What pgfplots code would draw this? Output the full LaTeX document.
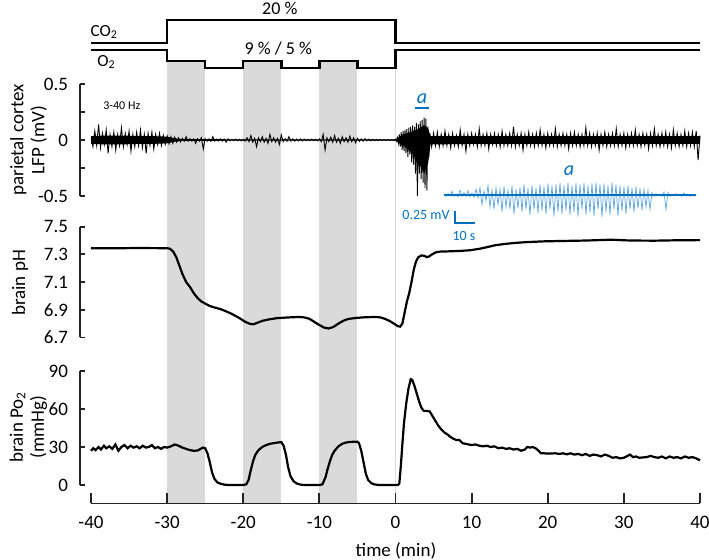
\documentclass[border=0pt]{standalone}
\usepackage{fontspec}
\setmainfont{Carlito}
\usepackage{pgfplots}
\pgfplotsset{compat=1.18}
\definecolor{band}{RGB}{218,218,218}
\definecolor{ablue}{RGB}{0,112,192}
\definecolor{lblue}{RGB}{95,165,222}
\definecolor{axc}{RGB}{35,35,35}
\pgfplotsset{panel/.style={anchor=south west, scale only axis, width=310pt,
  xmin=-41.445, xmax=40, axis y line*=left, hide x axis, tick align=inside,
  major tick length=2.6pt, axis line style={-, line width=0.9pt, axc},
  tick style={line width=0.9pt, axc},
  yticklabel style={font=\fontsize{9.5}{11}\selectfont, xshift=-2.5pt},
  clip=false}}
\begin{document}
\begin{tikzpicture}[x=1pt,y=1pt]
\useasboundingbox (0,0) rectangle (354.5,280);
% ---------- background: stimulus protocol and shaded periods ----------
\begin{axis}[at={(45.5pt,0pt)}, anchor=south west, scale only axis, width=304.5pt, height=280pt,
  xmin=-40, xmax=40, ymin=0, ymax=560, y dir=reverse, hide axis, clip=false]
\addplot[fill=band, draw=none] coordinates {(-30,62) (-25,62) (-25,503) (-30,503)};
\addplot[fill=band, draw=none] coordinates {(-20,62) (-15,62) (-15,503) (-20,503)};
\addplot[fill=band, draw=none] coordinates {(-10,62) (-5,62) (-5,503) (-10,503)};
\addplot[draw=band, line width=0.8pt] coordinates {(0,52) (0,503)};
\addplot[const plot, line width=1.2pt, black, line join=miter] coordinates {(-40,43.3) (-30,20) (0,43.3) (40,43.3)};
\addplot[const plot, line width=1.2pt, black, line join=miter] coordinates {(-40,50) (-30,61) (-25,68.3) (-20,61) (-15,68.3) (-10,61) (-5,68.3) (0,50) (40,50)};
\node[font=\fontsize{9}{10}\selectfont] at (axis cs:-15.2,8.5) {20 \%};
\node[font=\fontsize{9}{10}\selectfont] at (axis cs:-15.4,48.5) {9 \% / 5 \%};
\node[font=\fontsize{8.5}{10}\selectfont, anchor=west, inner sep=0pt] at (axis cs:-40.1,32) {CO\textsubscript{2}};
\node[font=\fontsize{8.5}{10}\selectfont, anchor=west, inner sep=0pt] at (axis cs:-39.2,62) {O\textsubscript{2}};
\end{axis}
% ---------- LFP ----------
\begin{axis}[panel, at={(40pt,182pt)}, height=56pt, ymin=-0.5, ymax=0.5,
  ytick={-0.5,-0.25,0,0.25,0.5}, yticklabels={-0.5,,0,,0.5}]
% dense core of the trace (envelope)
\addplot[fill=black, draw=none] coordinates {
(-40,0.035)(-38,0.04)(-36,0.04)(-34,0.035)(-32,0.035)(-30,0.03)(-29,0.015)(-28,0.008)(-20,0.006)(-10,0.006)(0,0.005)(0.5,0.03)(1,0.05)(2,0.07)(3,0.1)(3.8,0.13)(4.3,0.1)(4.6,0.035)(10,0.035)(20,0.035)(30,0.035)(40,0.035)
(40,-0.035)(30,-0.035)(20,-0.035)(10,-0.035)(4.6,-0.04)(4.3,-0.2)(3.8,-0.3)(3,-0.2)(2,-0.1)(1,-0.05)(0.5,-0.03)(0,-0.005)(-10,-0.006)(-20,-0.006)(-28,-0.008)(-29,-0.015)(-30,-0.03)(-32,-0.035)(-34,-0.035)(-36,-0.04)(-38,-0.04)(-40,-0.035)
};
\addplot[black, line width=0.45pt] coordinates {
(-40,0.02)(-39.75,-0.06)(-39.5,0.08)(-39.25,-0.05)(-39,0.14)(-38.75,-0.07)(-38.5,0.06)(-38.25,-0.04)(-38,0.09)(-37.75,-0.12)(-37.5,0.05)(-37.25,-0.06)(-37,0.07)(-36.75,-0.09)(-36.5,0.05)(-36.25,-0.05)(-36,0.11)(-35.75,-0.06)(-35.5,0.06)(-35.25,-0.04)(-35,0.08)(-34.75,-0.1)(-34.5,0.05)(-34.25,-0.06)(-34,0.07)(-33.75,-0.05)(-33.5,0.09)(-33.25,-0.07)(-33,0.05)(-32.75,-0.12)(-32.5,0.06)(-32.25,-0.05)(-32,0.07)(-31.75,-0.08)(-31.5,0.05)(-31.25,-0.04)(-31,0.06)(-30.75,-0.05)(-30.5,0.04)(-30.25,-0.04)(-30,0.035)
(-29.75,-0.035)(-29.5,0.03)(-29.25,-0.03)(-29,0.025)(-28.75,-0.02)(-28.5,0.02)(-28.25,-0.018)(-28,0.015)(-27.75,-0.012)(-27.5,0.03)(-27.25,-0.01)(-27,0.012)(-26.75,-0.01)(-26.5,0.01)(-26.25,-0.03)(-26,0.012)(-25.75,-0.01)(-25.5,0.02)(-25.25,-0.08)(-25,0.012)(-24.75,-0.01)(-24.5,0.01)(-24.25,-0.012)(-24,0.03)(-23.75,-0.01)(-23.5,0.008)(-23.25,-0.008)(-23,0.01)(-22.75,-0.01)(-22.5,0.008)(-22.25,-0.02)(-22,0.01)(-21.75,-0.008)(-21.5,0.006)(-21.25,-0.006)(-21,0.008)(-20.75,-0.006)(-20.5,0.006)(-20.25,-0.008)(-20,0.006)
(-19.75,-0.01)(-19.5,0.02)(-19.25,-0.015)(-19,0.04)(-18.75,-0.02)(-18.5,0.015)(-18.25,-0.06)(-18,0.02)(-17.75,-0.015)(-17.5,0.03)(-17.25,-0.02)(-17,0.015)(-16.75,-0.03)(-16.5,0.05)(-16.25,-0.015)(-16,0.02)(-15.75,-0.02)(-15.5,0.015)(-15.25,-0.04)(-15,0.045)(-14.75,-0.015)(-14.5,0.012)(-14.25,-0.012)(-14,0.03)(-13.75,-0.01)(-13.5,0.01)(-13.25,-0.01)(-13,0.008)(-12.75,-0.008)(-12.5,0.01)(-12.25,-0.008)(-12,0.008)(-11.75,-0.006)(-11.5,0.006)(-11.25,-0.006)(-11,0.008)(-10.75,-0.006)(-10.5,0.006)(-10.25,-0.008)(-10,0.01)
(-9.75,-0.015)(-9.5,0.05)(-9.25,-0.09)(-9,0.02)(-8.75,-0.015)(-8.5,0.025)(-8.25,-0.02)(-8,0.04)(-7.75,-0.02)(-7.5,0.015)(-7.25,-0.03)(-7,0.03)(-6.75,-0.015)(-6.5,0.02)(-6.25,-0.02)(-6,0.035)(-5.75,-0.015)(-5.5,0.02)(-5.25,-0.025)(-5,0.015)(-4.75,-0.012)(-4.5,0.01)(-4.25,-0.01)(-4,0.012)(-3.75,-0.008)(-3.5,0.008)(-3.25,-0.008)(-3,0.006)(-2.75,-0.006)(-2.5,0.006)(-2.25,-0.006)(-2,0.005)(-1.75,-0.005)(-1.5,0.005)(-1.25,-0.005)(-1,0.005)(-0.75,-0.005)(-0.5,0.005)(-0.25,-0.005)(0,0.008)
(0.125,-0.01)(0.25,0.02)(0.375,-0.03)(0.5,0.05)(0.625,-0.06)(0.75,0.07)(0.875,-0.09)(1,0.08)(1.125,-0.1)(1.25,0.09)(1.375,-0.12)(1.5,0.1)(1.625,-0.15)(1.75,0.11)(1.875,-0.13)(2,0.12)(2.125,-0.2)(2.25,0.13)(2.375,-0.22)(2.5,0.12)(2.625,-0.3)(2.75,0.15)(2.875,-0.5)(3,0.14)(3.125,-0.3)(3.25,0.17)(3.375,-0.35)(3.5,0.18)(3.625,-0.38)(3.75,0.2)(3.875,-0.43)(4,0.19)(4.125,-0.45)(4.25,0.12)(4.375,-0.15)(4.5,0.06)
(4.75,-0.06)(5,0.06)(5.25,-0.05)(5.5,0.07)(5.75,-0.06)(6,0.05)(6.25,-0.05)(6.5,0.08)(6.75,-0.05)(7,0.05)(7.25,-0.07)(7.5,0.06)(7.75,-0.05)(8,0.04)(8.25,-0.06)(8.5,0.09)(8.75,-0.05)(9,0.05)(9.25,-0.1)(9.5,0.05)(9.75,-0.05)(10,0.06)(10.25,-0.04)(10.5,0.05)(10.75,-0.06)(11,0.1)(11.25,-0.05)(11.5,0.05)(11.75,-0.05)(12,0.06)(12.25,-0.08)(12.5,0.05)(12.75,-0.04)(13,0.06)(13.25,-0.05)(13.5,0.05)(13.75,-0.06)(14,0.08)(14.25,-0.05)(14.5,0.05)(14.75,-0.05)(15,0.06)(15.25,-0.05)(15.5,0.12)(15.75,-0.06)(16,0.05)(16.25,-0.05)(16.5,0.06)(16.75,-0.09)(17,0.05)(17.25,-0.05)(17.5,0.07)(17.75,-0.05)(18,0.05)(18.25,-0.06)(18.5,0.06)(18.75,-0.05)(19,0.09)(19.25,-0.05)(19.5,0.05)(19.75,-0.07)(20,0.06)
(20.25,-0.05)(20.5,0.05)(20.75,-0.05)(21,0.1)(21.25,-0.06)(21.5,0.05)(21.75,-0.05)(22,0.06)(22.25,-0.05)(22.5,0.05)(22.75,-0.08)(23,0.06)(23.25,-0.05)(23.5,0.07)(23.75,-0.05)(24,0.05)(24.25,-0.06)(24.5,0.05)(24.75,-0.05)(25,0.11)(25.25,-0.05)(25.5,0.06)(25.75,-0.06)(26,0.05)(26.25,-0.05)(26.5,0.06)(26.75,-0.09)(27,0.05)(27.25,-0.05)(27.5,0.07)(27.75,-0.06)(28,0.05)(28.25,-0.05)(28.5,0.06)(28.75,-0.05)(29,0.1)(29.25,-0.06)(29.5,0.05)(29.75,-0.05)(30,0.06)(30.25,-0.07)(30.5,0.05)(30.75,-0.05)(31,0.06)(31.25,-0.05)(31.5,0.09)(31.75,-0.05)(32,0.05)(32.25,-0.06)(32.5,0.06)(32.75,-0.05)(33,0.05)(33.25,-0.08)(33.5,0.06)(33.75,-0.05)(34,0.1)(34.25,-0.05)(34.5,0.05)(34.75,-0.06)(35,0.06)(35.25,-0.05)(35.5,0.07)(35.75,-0.06)(36,0.05)(36.25,-0.07)(36.5,0.09)(36.75,-0.05)(37,0.06)(37.25,-0.06)(37.5,0.05)(37.75,-0.05)(38,0.08)(38.25,-0.06)(38.5,0.06)(38.75,-0.05)(39,0.07)(39.25,-0.06)(39.5,0.08)(39.75,-0.18)(40,0.04)
};
\node[font=\fontsize{6}{7}\selectfont, anchor=west] at (axis cs:-39.3,0.31) {3-40 Hz};
\node[ablue, font=\fontsize{10}{12}\itshape] at (axis cs:3.48,0.37) {a};
\draw[ablue, line width=0.8pt] (axis cs:2.56,0.286) -- (axis cs:4.4,0.286);
\end{axis}
% ---------- pH ----------
\begin{axis}[panel, at={(40pt,111.25pt)}, height=55.4pt, ymin=6.7, ymax=7.5,
  ytick={6.7,6.9,7.1,7.3,7.5}, yticklabels={6.7,6.9,7.1,7.3,7.5}]
\addplot[black, line width=1.1pt] coordinates {
(-40,7.345) (-37,7.344) (-34,7.346) (-31,7.345) (-30,7.345) (-29.6,7.34) (-29.2,7.32) (-28.8,7.28) (-28.4,7.22) (-28,7.16) (-27.5,7.1) (-27,7.065) (-26.5,7.02) (-26,6.985) (-25.5,6.96) (-25,6.945) (-24.5,6.93) (-24,6.92) (-23,6.905) (-22.3,6.89) (-21.5,6.87) (-20.5,6.84) (-19.8,6.815) (-19.2,6.8) (-18.7,6.795) (-18.2,6.805) (-17.5,6.82) (-16.5,6.832) (-15.5,6.84) (-14,6.845) (-12.7,6.848) (-12,6.845) (-11.3,6.835) (-10.6,6.81) (-10,6.79) (-9.4,6.772) (-8.8,6.765) (-8.2,6.775) (-7.5,6.8) (-6.8,6.822) (-6.2,6.834) (-5,6.842) (-4,6.846) (-2.6,6.848) (-2,6.845) (-1.4,6.835) (-0.8,6.82) (-0.2,6.8) (0.3,6.782) (0.6,6.778) (0.9,6.8) (1.2,6.88) (1.5,6.96) (1.8,7.02) (2.1,7.1) (2.4,7.19) (2.7,7.25) (3,7.28) (3.4,7.292) (3.8,7.29) (4.1,7.28) (4.4,7.285) (4.8,7.3) (5.3,7.315) (5.8,7.32) (7,7.322) (8.5,7.325) (9.8,7.33) (11,7.34) (12,7.352) (13,7.365) (14,7.373) (15.5,7.382) (17,7.388) (19.4,7.394) (22,7.397) (25,7.4) (28.3,7.406) (30,7.402) (31,7.4) (34,7.399) (37,7.402) (40,7.403)
};
\end{axis}
% ---------- PO2 ----------
\begin{axis}[panel, at={(40pt,37.5pt)}, height=57pt, ymin=0, ymax=90,
  ytick={0,30,60,90}, yticklabels={0,30,60,90}]
\addplot[black, line width=1.1pt] coordinates {
(-40,27) (-39.7,29) (-39.4,27.5) (-39,30) (-38.7,28) (-38.3,31) (-38,29) (-37.6,30.5) (-37.2,28.5) (-36.8,32) (-36.4,27) (-36,30) (-35.6,31.5) (-35.2,29) (-34.8,31) (-34.4,29.5) (-34,30.5) (-33.6,29) (-33.2,31) (-32.8,29.5) (-32.4,30) (-32,31.5) (-31.6,29) (-31.2,30) (-30.8,28.5) (-30.4,30) (-30,29.5) (-29.5,30.5) (-29,32) (-28.5,31) (-28,29.5) (-27.5,28.5) (-27,27.5) (-26.5,27) (-26,27.2) (-25.6,28.5) (-25.3,29.5) (-25,29) (-24.7,25) (-24.4,18) (-24.1,10) (-23.8,5) (-23.4,2) (-23,1) (-22.5,0.3) (-22,0) (-20,0) (-19.6,0.5) (-19.3,4) (-19,12) (-18.7,19) (-18.4,24) (-18,27.5) (-17.5,30) (-17,31.5) (-16.5,32.5) (-16,33) (-15.5,33.5) (-15,33.8) (-14.7,31) (-14.4,24) (-14.1,14) (-13.8,7) (-13.4,3) (-13,1.2) (-12.5,0.3) (-12,0) (-10,0) (-9.6,0.5) (-9.2,6) (-8.9,13) (-8.6,19) (-8.3,24) (-8,27) (-7.5,30.5) (-7,32.5) (-6.5,33.5) (-6,34) (-5,34.2) (-4.8,33) (-4.5,27) (-4.2,18) (-3.9,9) (-3.6,4) (-3.2,1.5) (-2.8,0.5) (-2.2,0) (0.3,0) (0.5,1) (0.7,15) (0.9,32) (1.1,48) (1.4,64) (1.7,76) (2,83.5) (2.2,83) (2.5,78) (2.8,72) (3.1,66) (3.4,61) (3.7,58.5) (4.1,58.5) (4.5,58) (4.8,55) (5.2,51) (5.6,47) (6,44) (6.4,41.5) (6.8,40) (7.2,38) (7.6,36.5) (8,35.5) (8.4,35.5) (8.8,33) (9.2,32.5) (9.6,32) (10,31.5) (10.5,32) (11,31) (11.5,30.5) (12,31) (12.5,30) (13,30.5) (13.5,29) (14,29.5) (14.5,28.5) (15,29) (15.5,28) (16,28.5) (16.5,27) (17,28) (17.3,30) (17.7,29.5) (18,30) (18.4,29) (18.8,27) (19.1,25) (19.5,25) (20,24.8) (21,25) (21.5,24.5) (22,25) (22.5,24.2) (23,25) (23.5,24) (24,24.5) (24.5,23.5) (25,24.5) (25.5,23) (26,24) (26.5,23.5) (27,22.5) (27.5,24) (28,23) (28.5,21.5) (29,22) (29.5,21) (30,21.5) (30.5,23) (30.8,24) (31.2,22) (31.6,22.5) (32,21.5) (33,22) (33.5,23) (34,22) (34.5,21.5) (35,22.5) (35.5,21) (36,22.5) (36.5,21.5) (37,22) (37.5,21) (38,22.5) (38.5,21.5) (39,22) (39.5,21) (40,19.5)
};
\end{axis}
% ---------- time axis ----------
\begin{axis}[at={(45.5pt,28.25pt)}, anchor=south west, scale only axis, width=304.5pt, height=20pt,
  xmin=-40, xmax=40, ymin=0, ymax=1, axis x line*=bottom, hide y axis,
  xtick={-40,-30,-20,-10,0,10,20,30,40}, xticklabels={-40,-30,-20,-10,0,10,20,30,40},
  tick align=inside, major tick length=5pt, axis line style={-, line width=0.9pt, axc},
  tick style={line width=0.9pt, axc},
  xticklabel style={font=\fontsize{9.5}{11}\selectfont, yshift=-3pt}]
\addplot[draw=none] coordinates {(0,0.5)};
\end{axis}
% ---------- inset (expanded segment a) ----------
\begin{axis}[at={(222pt,168.1pt)}, anchor=south west, scale only axis, width=126pt, height=24pt,
  xmin=0, xmax=126, ymin=-0.6, ymax=0.4, hide axis, clip=false]
\addplot[lblue, line width=0.35pt] coordinates {
(0,0.02)(1,-0.03)(2,0.03)(3,-0.02)(4,0.08)(5,-0.03)(6,0.02)(7,-0.04)(8,0.1)(9,-0.03)(10,0.05)(11,-0.03)(12,0.09)(13,-0.04)(14,0.04)(15,-0.05)(16,0.12)(17,-0.06)(18,0.15)(19,-0.2)(20,0.08)(21,-0.12)(22,0.2)(23,-0.25)(24,0.1)(25,-0.3)(26,0.15)(27,-0.2)(28,0.12)(29,-0.35)(30,0.18)(31,-0.25)(32,0.1)(33,-0.3)(34,0.2)(35,-0.4)(36,0.12)(37,-0.28)(38,0.16)(39,-0.35)(40,0.22)(41,-0.3)(42,0.14)(43,-0.42)(44,0.2)(45,-0.3)(46,0.15)(47,-0.38)(48,0.22)(49,-0.33)(50,0.18)(51,-0.4)(52,0.24)(53,-0.3)(54,0.2)(55,-0.45)(56,0.22)(57,-0.35)(58,0.25)(59,-0.4)(60,0.2)(61,-0.32)(62,0.26)(63,-0.42)(64,0.2)(65,-0.35)(66,0.24)(67,-0.45)(68,0.22)(69,-0.3)(70,0.25)(71,-0.42)(72,0.2)(73,-0.36)(74,0.24)(75,-0.44)(76,0.26)(77,-0.3)(78,0.22)(79,-0.46)(80,0.24)(81,-0.35)(82,0.2)(83,-0.42)(84,0.26)(85,-0.3)(86,0.22)(87,-0.44)(88,0.2)(89,-0.33)(90,0.18)(91,-0.4)(92,0.2)(93,-0.3)(94,0.15)(95,-0.36)(96,0.18)(97,-0.28)(98,0.14)(99,-0.32)(100,0.12)(101,-0.25)(102,0.1)(103,-0.3)(104,0.05)(105,-0.03)(106,0.03)(107,-0.02)(108,0.02)(109,-0.03)(110,0.06)(111,-0.3)(112,0.05)(113,-0.03)(114,0.02)(115,-0.02)(116,0.03)(117,-0.02)(118,0.02)(119,-0.03)(120,0.04)(121,-0.02)(122,0.02)(123,-0.03)(124,0.02)(125,-0.02)(126,0.01)
};
\addplot[ablue, line width=1.1pt] coordinates {(0,0) (126,0)};
\draw[ablue, line width=0.9pt] (axis cs:5.5,-0.333) -- (axis cs:5.5,-0.583) -- (axis cs:15.5,-0.583);
\node[ablue, font=\fontsize{7}{8}\selectfont, anchor=east, inner sep=1pt] at (axis cs:4,-0.42) {0.25 mV};
\node[ablue, font=\fontsize{7}{8}\selectfont] at (axis cs:10,-0.86) {10 s};
\node[ablue, font=\fontsize{10}{12}\itshape] at (axis cs:62.5,0.5) {a};
\end{axis}
% ---------- axis titles ----------
\node[rotate=90, align=center, font=\fontsize{9.5}{10.5}\selectfont] at (14.25,210) {parietal cortex\\LFP (mV)};
\node[rotate=90, font=\fontsize{9.5}{10.5}\selectfont] at (10,138.5) {brain pH};
\node[rotate=90, align=center, font=\fontsize{9.5}{10.5}\selectfont] at (14.25,66.5) {brain Po\textsubscript{2}\\(mmHg)};
\node[font=\fontsize{9.5}{11}\selectfont] at (198,4.65) {time (min)};
\end{tikzpicture}
\end{document}
